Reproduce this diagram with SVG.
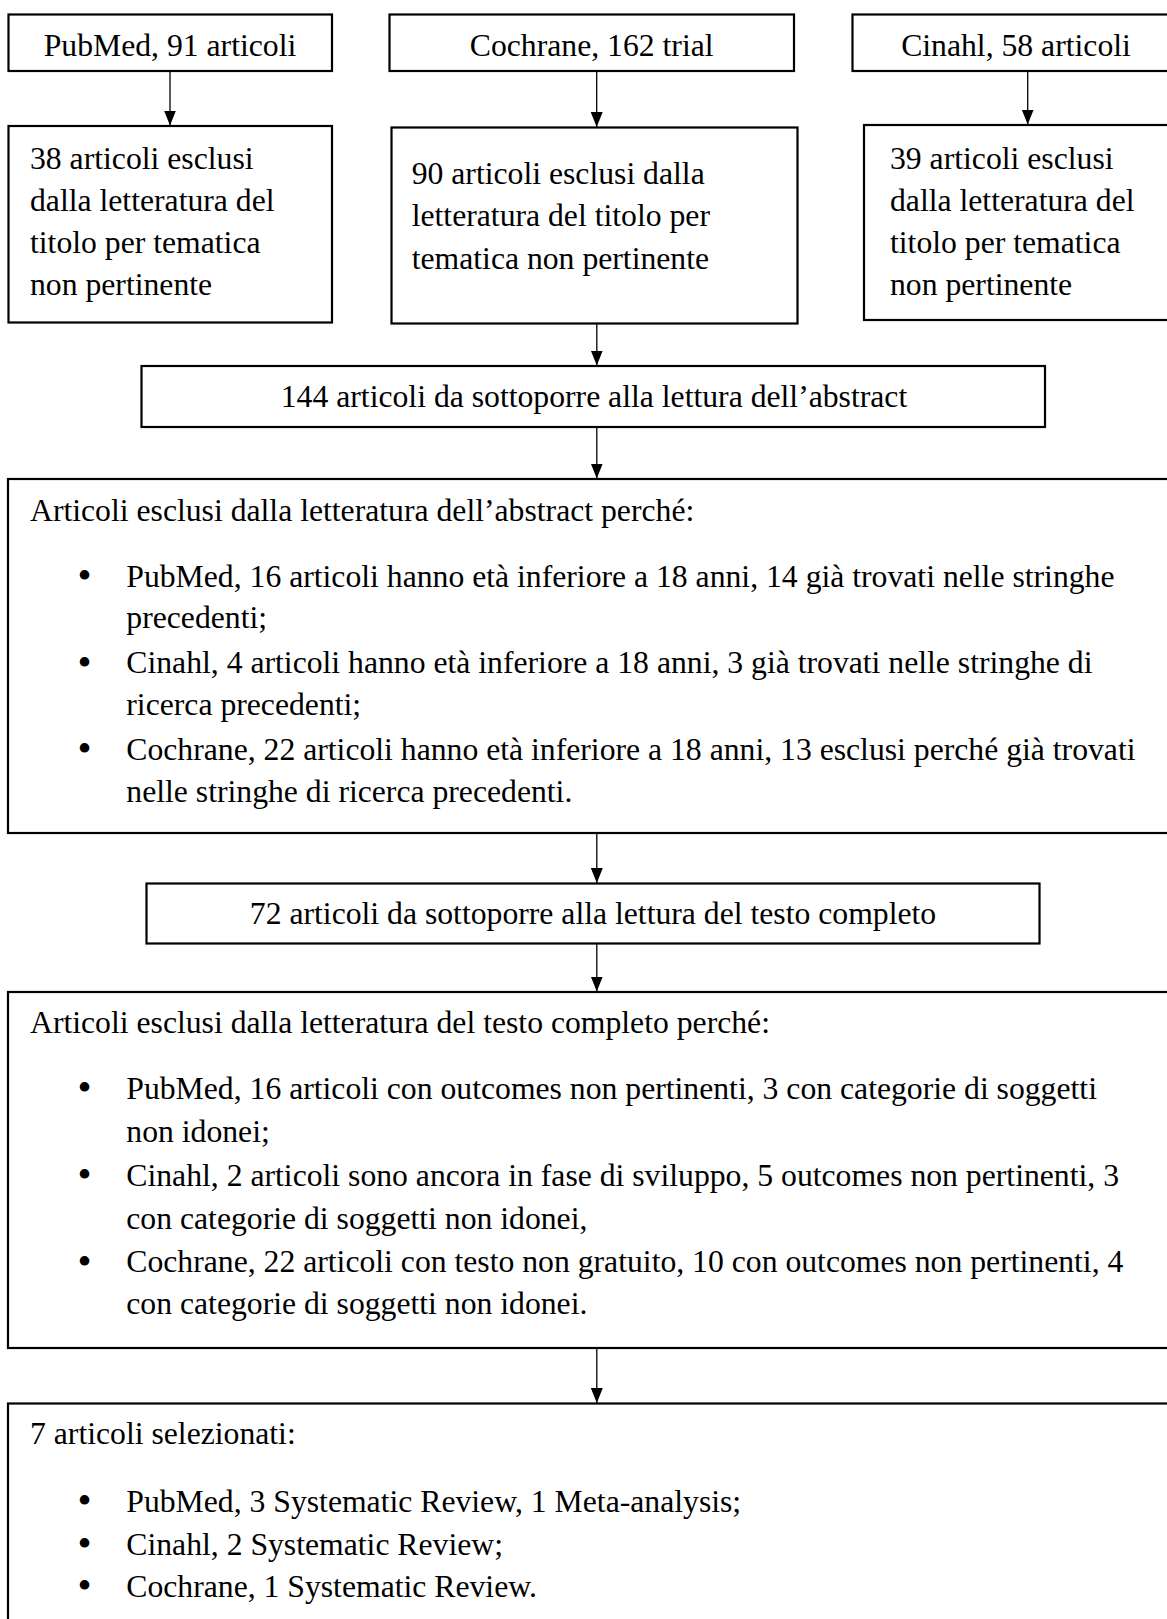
<svg xmlns="http://www.w3.org/2000/svg" width="1167" height="1619" viewBox="0 0 1167 1619">
<style>
  .box { fill: #ffffff; stroke: #000000; stroke-width: 2.2; }
  .t { font-family: "Liberation Serif", "Times New Roman", serif; font-size: 31.7px; fill: #000000; }
  .c { text-anchor: middle; }
  .b { font-family: "Liberation Serif", "Times New Roman", serif; font-size: 40px; fill: #000000; text-anchor: middle; }
  .conn { stroke: #000000; stroke-width: 1.3; fill: none; marker-end: url(#ah); }
</style>
<defs>
  <marker id="ah" markerUnits="userSpaceOnUse" markerWidth="15" markerHeight="12" refX="15" refY="6" orient="auto">
    <path d="M0,0 L15,6 L0,12 z" fill="#000000"/>
  </marker>
</defs>
<rect width="1167" height="1619" fill="#ffffff"/>

<g id="connectors">
  <line class="conn" x1="170" y1="71" x2="170" y2="125.5"/>
  <line class="conn" x1="596.7" y1="71" x2="596.7" y2="127"/>
  <line class="conn" x1="1027.7" y1="71" x2="1027.7" y2="124.5"/>
  <line class="conn" x1="596.8" y1="323.5" x2="596.8" y2="365.5"/>
  <line class="conn" x1="596.8" y1="427" x2="596.8" y2="478.5"/>
  <line class="conn" x1="596.8" y1="833" x2="596.8" y2="883"/>
  <line class="conn" x1="596.8" y1="943.5" x2="596.8" y2="991.5"/>
  <line class="conn" x1="596.8" y1="1348" x2="596.8" y2="1403"/>
</g>

<g id="pubmed">
  <rect class="box" x="8.5" y="14.5" width="323.5" height="56.5"/>
  <text class="t c" x="170" y="56">PubMed, 91 articoli</text>
</g>
<g id="cochrane">
  <rect class="box" x="389.5" y="14.5" width="404.5" height="56.5"/>
  <text class="t c" x="591.7" y="56">Cochrane, 162 trial</text>
</g>
<g id="cinahl">
  <rect class="box" x="852.5" y="14.5" width="330" height="56.5"/>
  <text class="t c" x="1016" y="56">Cinahl, 58 articoli</text>
</g>

<g id="excl-pubmed">
  <rect class="box" x="8.5" y="126" width="323.5" height="196.5"/>
  <text class="t" x="30" y="168.5">38 articoli esclusi</text>
  <text class="t" x="30" y="210.5">dalla letteratura del</text>
  <text class="t" x="30" y="252.5">titolo per tematica</text>
  <text class="t" x="30" y="294.5">non pertinente</text>
</g>
<g id="excl-cochrane">
  <rect class="box" x="391.5" y="127.5" width="406" height="196"/>
  <text class="t" x="411.7" y="184">90 articoli esclusi dalla</text>
  <text class="t" x="411.7" y="226.3">letteratura del titolo per</text>
  <text class="t" x="411.7" y="268.5">tematica non pertinente</text>
</g>
<g id="excl-cinahl">
  <rect class="box" x="864" y="125" width="320" height="195"/>
  <text class="t" x="890" y="168.5">39 articoli esclusi</text>
  <text class="t" x="890" y="210.5">dalla letteratura del</text>
  <text class="t" x="890" y="252.5">titolo per tematica</text>
  <text class="t" x="890" y="294.5">non pertinente</text>
</g>

<g id="abstract-screen">
  <rect class="box" x="141.5" y="366" width="903.5" height="61"/>
  <text class="t c" x="594" y="407">144 articoli da sottoporre alla lettura dell’abstract</text>
</g>

<g id="abstract-excluded">
  <rect class="box" x="8" y="479" width="1170" height="354"/>
  <text class="t" x="30" y="521">Articoli esclusi dalla letteratura dell’abstract perché:</text>
  <text class="b" x="84.5" y="589">•</text>
  <text class="t" x="126.3" y="586.7">PubMed, 16 articoli hanno età inferiore a 18 anni, 14 già trovati nelle stringhe</text>
  <text class="t" x="126.3" y="628">precedenti;</text>
  <text class="b" x="84.5" y="675.6">•</text>
  <text class="t" x="126.3" y="673.3">Cinahl, 4 articoli hanno età inferiore a 18 anni, 3 già trovati nelle stringhe di</text>
  <text class="t" x="126.3" y="715">ricerca precedenti;</text>
  <text class="b" x="84.5" y="762.3">•</text>
  <text class="t" x="126.3" y="760">Cochrane, 22 articoli hanno età inferiore a 18 anni, 13 esclusi perché già trovati</text>
  <text class="t" x="126.3" y="802">nelle stringhe di ricerca precedenti.</text>
</g>

<g id="fulltext-screen">
  <rect class="box" x="146.5" y="883.5" width="893" height="60"/>
  <text class="t c" x="593" y="923.5">72 articoli da sottoporre alla lettura del testo completo</text>
</g>

<g id="fulltext-excluded">
  <rect class="box" x="8" y="992" width="1170" height="356"/>
  <text class="t" x="30" y="1033.3">Articoli esclusi dalla letteratura del testo completo perché:</text>
  <text class="b" x="84.5" y="1101.3">•</text>
  <text class="t" x="126.3" y="1099">PubMed, 16 articoli con outcomes non pertinenti, 3 con categorie di soggetti</text>
  <text class="t" x="126.3" y="1142.3">non idonei;</text>
  <text class="b" x="84.5" y="1188">•</text>
  <text class="t" x="126.3" y="1185.7">Cinahl, 2 articoli sono ancora in fase di sviluppo, 5 outcomes non pertinenti, 3</text>
  <text class="t" x="126.3" y="1228.5">con categorie di soggetti non idonei,</text>
  <text class="b" x="84.5" y="1274.6">•</text>
  <text class="t" x="126.3" y="1272.3">Cochrane, 22 articoli con testo non gratuito, 10 con outcomes non pertinenti, 4</text>
  <text class="t" x="126.3" y="1314.3">con categorie di soggetti non idonei.</text>
</g>

<g id="selected">
  <rect class="box" x="8" y="1403.5" width="1170" height="240"/>
  <text class="t" x="30" y="1444">7 articoli selezionati:</text>
  <text class="b" x="84.5" y="1514">•</text>
  <text class="t" x="126.3" y="1511.7">PubMed, 3 Systematic Review, 1 Meta-analysis;</text>
  <text class="b" x="84.5" y="1557.3">•</text>
  <text class="t" x="126.3" y="1555">Cinahl, 2 Systematic Review;</text>
  <text class="b" x="84.5" y="1599">•</text>
  <text class="t" x="126.3" y="1596.7">Cochrane, 1 Systematic Review.</text>
</g>
</svg>
